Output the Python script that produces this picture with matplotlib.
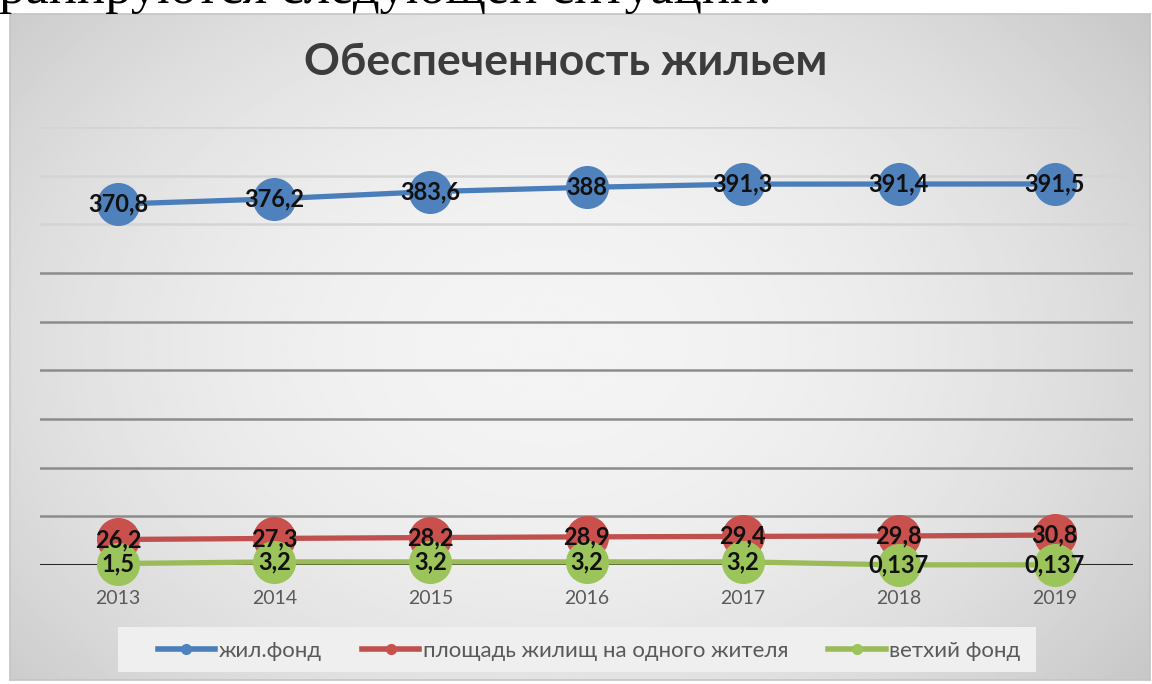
import numpy as np
import matplotlib.pyplot as plt
from matplotlib.lines import Line2D
from matplotlib.patches import Rectangle

years = ['2013', '2014', '2015', '2016', '2017', '2018', '2019']
zhil_fond = [370.8, 376.2, 383.6, 388, 391.3, 391.4, 391.5]
ploshad = [26.2, 27.3, 28.2, 28.9, 29.4, 29.8, 30.8]
vetkhiy = [1.5, 3.2, 3.2, 3.2, 3.2, 0.137, 0.137]

series_names = ['жил.фонд', 'площадь жилищ на одного жителя', 'ветхий фонд']
line_colors = ['#4a7ebb', '#c0504d', '#9bbb59']
marker_colors = ['#4f81bd', '#c9504d', '#9bc45a']


def fmt(v):
    # Excel style: comma as decimal separator
    return ('%g' % v).replace('.', ',')


fig = plt.figure(figsize=(11.52, 6.84), dpi=100)
W, H = 1152, 684

# document text above the chart, cut by the top edge as in the scan
fig.text(-0.001, 1 - 3 / H, 'ранируются следующей ситуации.', fontsize=38,
         family='Liberation Serif', va='baseline', ha='left', color='black')

# chart area with soft radial gradient
bg = fig.add_axes([10 / W, 4 / H, 1140 / W, 666 / H])
yy, xx = np.mgrid[-1:1:300j, -1:1:500j]
r = np.sqrt((xx + 0.05) ** 2 + (yy * 0.8) ** 2)
shade = np.clip(0.955 - 0.10 * r ** 2, 0, 1)
bg.imshow(shade, cmap='gray', vmin=0, vmax=1, aspect='auto',
          extent=[0, 1, 0, 1], interpolation='bilinear')
bg.set_xlim(0, 1)
bg.set_ylim(0, 1)
bg.set_xticks([])
bg.set_yticks([])
for sp in bg.spines.values():
    sp.set_color('#c4c4c4')
    sp.set_linewidth(1.2)

fig.text(566 / W, 1 - 62 / H, 'Обеспеченность жильем', fontsize=32,
         family='Lato', weight='bold', color='#3c3c3c', ha='center', va='center')

ax = fig.add_axes([40 / W, 119 / H, 1093 / W, 438 / H])
ax.patch.set_alpha(0)
ax.set_xlim(-0.5, 6.5)
ax.set_ylim(0, 450)
for sp in ax.spines.values():
    sp.set_visible(False)

for v in range(50, 451, 50):
    c = '#d4d4d4' if v >= 350 else '#8c8c8c'
    ax.axhline(v, color=c, lw=1.8, zorder=1)
ax.axhline(0, color='#262626', lw=2.2, zorder=2)

x = np.arange(len(years))
for i, data in enumerate([zhil_fond, ploshad, vetkhiy]):
    ax.plot(x, data, color=line_colors[i], lw=3.8, zorder=3 + i, clip_on=False)
    ax.plot(x, data, 'o', ms=31, color=marker_colors[i], mec='none',
            zorder=3 + i, clip_on=False)
    for xi, v in zip(x, data):
        ax.text(xi, v, fmt(v), ha='center', va='center', fontsize=17,
                family='Lato', weight='bold', color='#111111', zorder=10,
                clip_on=False)

ax.set_yticks([])
ax.set_xticks(x)
ax.set_xticklabels(years, family='Lato', fontsize=14, color='#5a5a5a')
ax.tick_params(axis='x', length=0, pad=18)

# legend box
fig.patches.append(Rectangle((118 / W, 1 - 672 / H), 918 / W, 45 / H,
                             transform=fig.transFigure, facecolor='#efefef',
                             edgecolor='none', zorder=0))
handles = [Line2D([], [], color=line_colors[i], lw=4, marker='o', ms=7,
                  mfc=marker_colors[i], mec=marker_colors[i])
           for i in range(3)]
leg = fig.legend(handles, series_names, loc='center',
                 bbox_to_anchor=(589 / W, 1 - 651 / H), ncol=3,
                 frameon=False, handlelength=2.6, handletextpad=0.15,
                 columnspacing=1.8, prop={'family': 'Lato', 'size': 16})
for t in leg.get_texts():
    t.set_color('#595959')

fig.savefig('out.png', dpi=100)
